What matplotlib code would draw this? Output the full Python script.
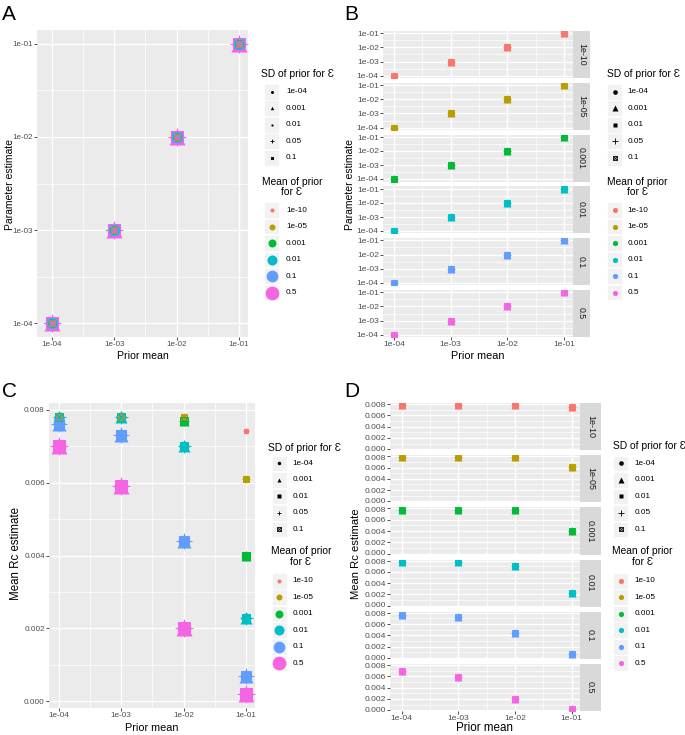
import numpy as np
import matplotlib
matplotlib.use("Agg")
import matplotlib.pyplot as plt
from matplotlib.patches import Rectangle
from matplotlib.ticker import FixedLocator, NullFormatter
from matplotlib.transforms import ScaledTranslation

plt.rcParams['font.family'] = ['Liberation Sans', 'DejaVu Sans']

# ---------------- data ----------------
prior_mean = [1e-4, 1e-3, 1e-2, 1e-1]
prior_mean_labels = ["1e-04", "1e-03", "1e-02", "1e-01"]
sd_levels = ["1e-04", "0.001", "0.01", "0.05", "0.1"]
mean_levels = ["1e-10", "1e-05", "0.001", "0.01", "0.1", "0.5"]

# parameter estimate (panels A, B), one list per prior mean of epsilon
param_1e10 = [1e-4, 1e-3, 1e-2, 1e-1]
param_1e05 = [1e-4, 1e-3, 1e-2, 1e-1]
param_0001 = [1e-4, 1e-3, 1e-2, 1e-1]
param_001 = [1e-4, 1e-3, 1e-2, 1e-1]
param_01 = [1e-4, 1e-3, 1e-2, 1e-1]
param_05 = [1e-4, 1e-3, 1e-2, 1e-1]
param_est = [param_1e10, param_1e05, param_0001, param_001, param_01, param_05]

# mean Rc estimate (panels C, D)
rc_1e10 = [0.0078, 0.0078, 0.0078, 0.0074]
rc_1e05 = [0.0078, 0.0078, 0.0078, 0.0061]
rc_0001 = [0.0078, 0.0078, 0.0077, 0.0040]
rc_001 = [0.0078, 0.0078, 0.0070, 0.0023]
rc_01 = [0.0076, 0.0073, 0.0044, 0.0007]
rc_05 = [0.0070, 0.0059, 0.0020, 0.0002]
rc_est = [rc_1e10, rc_1e05, rc_0001, rc_001, rc_01, rc_05]

param_ticks = [1e-4, 1e-3, 1e-2, 1e-1]
param_tick_labels = ["1e-04", "1e-03", "1e-02", "1e-01"]
rc_ticks = [0.0, 0.002, 0.004, 0.006, 0.008]
rc_tick_labels = ["0.000", "0.002", "0.004", "0.006", "0.008"]

# ---------------- style ----------------
W, H, DPI = 685, 735, 100
PX = 72.0 / DPI  # points per pixel
mean_colors = ["#F8766D", "#B79F00", "#00BA38", "#00BFC4", "#619CFF", "#F564E3"]
sd_shapes = ["o", "^", "s", "+", "sx"]
mean_diam = [d * PX for d in [4, 6, 8, 10, 11.7, 13.7]]
small_diam = 6.4 * PX
shape_fac = {"o": 1.0, "^": 1.15, "s": 0.886, "+": 1.3, "sx": 0.886}
PANEL_BG = "#EBEBEB"
STRIP_BG = "#D9D9D9"
TICK_C = "#4D4D4D"

fig = plt.figure(figsize=(W / DPI, H / DPI), dpi=DPI)
fig.patch.set_facecolor("white")


def px_axes(l, t, r, b, z=1):
    return fig.add_axes([l / W, 1 - b / H, (r - l) / W, (b - t) / H], zorder=z)


def draw_shape(ax, x, y, shape, color, d, lw=0.7, z=3):
    f = shape_fac[shape]
    if shape == "sx":
        ax.plot(x, y, ls="none", marker="s", ms=d * f, mfc="none", mec=color,
                mew=lw, zorder=z)
        ax.plot(x, y, ls="none", marker="x", ms=d * f, mec=color, mew=lw, zorder=z)
    elif shape == "+":
        ax.plot(x, y, ls="none", marker="+", ms=d * f, mec=color, mew=lw, zorder=z)
    else:
        ax.plot(x, y, ls="none", marker=shape, ms=d * f, mfc=color, mec="none",
                zorder=z)


def style_axes(ax, fs):
    ax.set_facecolor(PANEL_BG)
    for s in ax.spines.values():
        s.set_visible(False)
    ax.grid(which="major", color="white", lw=1.0)
    ax.grid(which="minor", color="white", lw=0.5)
    ax.set_axisbelow(True)
    ax.tick_params(which="major", length=2.0, width=0.6, color="#333333",
                   labelcolor=TICK_C, labelsize=fs, pad=1.0)
    ax.tick_params(which="minor", length=0)


def set_log_x(ax, pad_lo, pad_hi):
    ax.set_xscale("log")
    ax.set_xlim(10 ** (np.log10(prior_mean[0]) - pad_lo),
                10 ** (np.log10(prior_mean[-1]) + pad_hi))
    ax.xaxis.set_major_locator(FixedLocator(prior_mean))
    ax.set_xticklabels(prior_mean_labels)
    mids = [np.sqrt(a * b) for a, b in zip(prior_mean[:-1], prior_mean[1:])]
    ax.xaxis.set_minor_locator(FixedLocator(mids))
    ax.xaxis.set_minor_formatter(NullFormatter())


def set_log_y(ax):
    ax.set_yscale("log")
    lo, hi = np.log10(param_ticks[0]), np.log10(param_ticks[-1])
    e = 0.05 * (hi - lo)
    ax.set_ylim(10 ** (lo - e), 10 ** (hi + e))
    ax.yaxis.set_major_locator(FixedLocator(param_ticks))
    ax.set_yticklabels(param_tick_labels)
    mids = [np.sqrt(a * b) for a, b in zip(param_ticks[:-1], param_ticks[1:])]
    ax.yaxis.set_minor_locator(FixedLocator(mids))
    ax.yaxis.set_minor_formatter(NullFormatter())


def set_rc_y(ax):
    allv = np.concatenate([np.array(r) for r in rc_est])
    e = 0.05 * (allv.max() - allv.min())
    ax.set_ylim(allv.min() - e, allv.max() + e)
    ax.yaxis.set_major_locator(FixedLocator(rc_ticks))
    ax.set_yticklabels(rc_tick_labels)
    mids = [(a + b) / 2 for a, b in zip(rc_ticks[:-1], rc_ticks[1:])]
    ax.yaxis.set_minor_locator(FixedLocator(mids))


def nudge_ends(ax, dy_px):
    ticks = ax.yaxis.get_major_ticks()
    lab0 = ticks[0].label1
    lab1 = ticks[-1].label1
    lab0.set_transform(lab0.get_transform() +
                       ScaledTranslation(0, dy_px / DPI, fig.dpi_scale_trans))
    lab1.set_transform(lab1.get_transform() +
                       ScaledTranslation(0, -dy_px / DPI, fig.dpi_scale_trans))


# ---------------- panel A ----------------
axA = px_axes(37, 30, 248, 337)
style_axes(axA, 5.8)
set_log_x(axA, 0.24, 0.145)
set_log_y(axA)
for j, shp in enumerate(sd_shapes):
    for i in range(len(mean_levels)):
        draw_shape(axA, prior_mean, param_est[i], shp, mean_colors[i], mean_diam[i])

# ---------------- panel B ----------------
B_top0, B_step, B_h = 31, 51.8, 47
for i, m in enumerate(mean_levels):
    t = B_top0 + i * B_step
    ax = px_axes(383, t, 573, t + B_h)
    style_axes(ax, 6.1)
    set_log_x(ax, 0.194, 0.159)
    set_log_y(ax)
    for j, shp in enumerate(sd_shapes):
        draw_shape(ax, prior_mean, param_est[i], shp, mean_colors[i], small_diam, lw=0.6)
    if i < len(mean_levels) - 1:
        ax.tick_params(axis="x", which="both", bottom=False, labelbottom=False)
    nudge_ends(ax, 0.5)
    st = px_axes(573, t, 590, t + B_h)
    st.set_facecolor(STRIP_BG)
    st.set_xticks([]); st.set_yticks([])
    for s in st.spines.values():
        s.set_visible(False)
    st.text(0.5, 0.5, m, rotation=-90, ha="center", va="center", fontsize=6.3,
            color="#1A1A1A", transform=st.transAxes)

# ---------------- panel C ----------------
axC = px_axes(49, 403, 255, 708)
style_axes(axC, 5.9)
set_log_x(axC, 0.16, 0.145)
set_rc_y(axC)
for j, shp in enumerate(sd_shapes):
    for i in range(len(mean_levels)):
        draw_shape(axC, prior_mean, rc_est[i], shp, mean_colors[i], mean_diam[i])

# ---------------- panel D ----------------
D_top0, D_step, D_h = 403, 52.2, 47.2
for i, m in enumerate(mean_levels):
    t = D_top0 + i * D_step
    ax = px_axes(390, t, 580, t + D_h)
    style_axes(ax, 6.1)
    set_log_x(ax, 0.203, 0.15)
    set_rc_y(ax)
    for j, shp in enumerate(sd_shapes):
        draw_shape(ax, prior_mean, rc_est[i], shp, mean_colors[i], small_diam, lw=0.6)
    if i < len(mean_levels) - 1:
        ax.tick_params(axis="x", which="both", bottom=False, labelbottom=False)
    nudge_ends(ax, 0.9)
    st = px_axes(580, t, 601, t + D_h)
    st.set_facecolor(STRIP_BG)
    st.set_xticks([]); st.set_yticks([])
    for s in st.spines.values():
        s.set_visible(False)
    st.text(0.5, 0.5, m, rotation=-90, ha="center", va="center", fontsize=6.5,
            color="#1A1A1A", transform=st.transAxes)

# ---------------- overlay: titles, legends, letters ----------------
ov = fig.add_axes([0, 0, 1, 1], zorder=20)
ov.set_xlim(0, W)
ov.set_ylim(H, 0)
ov.axis("off")
ov.patch.set_alpha(0)

for letter, x, y in [("A", 2, 14), ("B", 344, 14), ("C", 2, 391), ("D", 344, 391)]:
    ov.text(x, y, letter, fontsize=15, ha="left", va="center", color="black")

# axis titles
ov.text(143, 356, "Prior mean", fontsize=7.6, ha="center", va="center")
ov.text(10.5, 184, "Parameter estimate", fontsize=7.5, rotation=90, ha="center", va="center")
ov.text(478, 356, "Prior mean", fontsize=7.8, ha="center", va="center")
ov.text(350.5, 184, "Parameter estimate", fontsize=7.5, rotation=90, ha="center", va="center")
ov.text(152, 728, "Prior mean", fontsize=7.8, ha="center", va="center")
ov.text(16, 554, "Mean Rc estimate", fontsize=8.3, rotation=90, ha="center", va="center")
ov.text(485, 728, "Prior mean", fontsize=8.4, ha="center", va="center")
ov.text(356, 554, "Mean Rc estimate", fontsize=8.1, rotation=90, ha="center", va="center")


def legend(title_x, title_y, key_cx, label_x, sd_y0, mean_title_cx, mean_title_y,
           mean_y0, sd_key_d, mean_key_d, pitch=16.5):
    ov.text(title_x, title_y, "SD of prior for Ɛ", fontsize=7.4, ha="left", va="center",
            color="black")
    for j, shp in enumerate(sd_shapes):
        y = sd_y0 + j * pitch
        ov.add_patch(Rectangle((key_cx - 7.5, y - 7.8), 15, 15.6, fc="#F2F2F2",
                               ec="white", lw=0.6, zorder=1))
        draw_shape(ov, [key_cx], [y], shp, "black", sd_key_d, lw=0.6, z=3)
        ov.text(label_x, y, sd_levels[j], fontsize=5.9, ha="left", va="center",
                color="black")
    ov.text(mean_title_cx, mean_title_y, "Mean of prior\nfor Ɛ", fontsize=7.4,
            ha="center", va="center", multialignment="center", linespacing=1.1)
    for i, m in enumerate(mean_levels):
        y = mean_y0 + i * pitch
        ov.add_patch(Rectangle((key_cx - 7.5, y - 7.8), 15, 15.6, fc="#F2F2F2",
                               ec="white", lw=0.6, zorder=1))
        ov.plot([key_cx], [y], ls="none", marker="o", ms=mean_key_d[i],
                mfc=mean_colors[i], mec="none", zorder=3)
        ov.text(label_x, y, m, fontsize=5.9, ha="left", va="center", color="black")


legend(260.7, 74, 272, 286, 91.7, 292, 187, 210, 3.0 * PX, mean_diam)
legend(606.7, 74, 615, 627.7, 91.7, 637.5, 187, 210, 4.6 * PX, [5.2 * PX] * 6)
legend(268.3, 448.3, 279.3, 292.7, 463.3, 300.8, 556.7, 580.7, 3.5 * PX, mean_diam)
legend(612.7, 446, 621, 634.3, 463.3, 642.7, 556.7, 580.7, 4.6 * PX, [5.2 * PX] * 6)

fig.savefig("out.png", dpi=DPI)
